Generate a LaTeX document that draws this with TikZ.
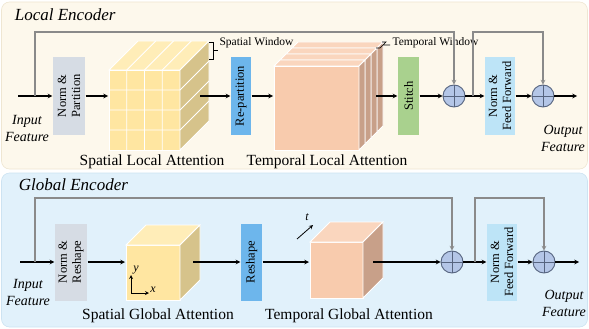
\documentclass[tikz,border=0pt]{standalone}
\usepackage{fontspec}
\setmainfont{Liberation Serif}
\usepackage{tikz}

\definecolor{localbg}{HTML}{FDF8EC}
\definecolor{localedge}{HTML}{EFE6D2}
\definecolor{globalbg}{HTML}{E1F1FB}
\definecolor{globaledge}{HTML}{CDE3F2}
\definecolor{normfill}{HTML}{D6DCE4}
\definecolor{partfill}{HTML}{6DB6EC}
\definecolor{stitchfill}{HTML}{A9D18E}
\definecolor{ffnfill}{HTML}{BDE4F7}
\definecolor{addfill}{HTML}{B4C6E7}
\definecolor{adddraw}{HTML}{56647F}
\definecolor{skipgray}{HTML}{8A8A8A}
\definecolor{yelfront}{HTML}{FFE6A1}
\definecolor{yeltop}{HTML}{FFEDB8}
\definecolor{yelside}{HTML}{D6C38B}
\definecolor{pchfront}{HTML}{F8CBAD}
\definecolor{pchtop}{HTML}{FAD6BE}
\definecolor{pchside}{HTML}{C8A089}

% front top-left x, y; width; height; depth; colour prefix
\newcommand{\cubeblock}[6]{%
  \filldraw[fill=#6front] (#1,#2) rectangle ++(#3,#4);
  \filldraw[fill=#6top] (#1,#2) -- ++(#3,0) -- ++(#5,-#5) -- ++(-#3,0) -- cycle;
  \filldraw[fill=#6side] (#1+#3,#2) -- ++(#5,-#5) -- ++(0,#4) -- ++(-#5,#5) -- cycle;
}

\begin{document}
\begin{tikzpicture}[x=1pt,y=-1pt,line width=1.1pt,>=stealth,
  opbox/.style={rotate=90,minimum width=77pt,inner sep=0pt,align=center,
    font=\fontsize{12.5}{14}\selectfont},
  addnode/.style={circle,draw=adddraw,fill=addfill,line width=0.9pt,
    minimum size=22pt,inner sep=0pt,
    path picture={\draw[adddraw,line width=0.9pt]
      (path picture bounding box.north) -- (path picture bounding box.south)
      (path picture bounding box.west) -- (path picture bounding box.east);}},
  skip/.style={draw=skipgray,->},
  title/.style={anchor=west,font=\fontsize{17}{20}\selectfont\itshape},
  cubelabel/.style={font=\fontsize{15.5}{18}\selectfont},
  io/.style={align=center,font=\fontsize{14}{17}\selectfont\itshape},
  winlabel/.style={anchor=west,inner sep=0pt,font=\fontsize{11.5}{13}\selectfont},
  axlab/.style={inner sep=0pt,font=\fontsize{12}{14}\selectfont\itshape}]
  \useasboundingbox (0,0) rectangle (589,329);

  % panels
  \filldraw[fill=localbg,draw=localedge,line width=0.6pt,rounded corners=8pt]
    (1.5,2) rectangle (587.5,169);
  \filldraw[fill=globalbg,draw=globaledge,line width=0.6pt,rounded corners=8pt]
    (1.5,173) rectangle (587.5,327);

  %% local encoder
  \node[title] (ltitle) at (11,15) {Local Encoder};

  \coordinate (inA) at (18,96);
  \coordinate (skA) at (35,96);
  \coordinate (topA) at (35,32);
  \node[opbox,minimum height=32pt,fill=normfill] (normA) at (69,96) {Norm \&\\Partition};
  \coordinate (slaIn) at (108,96);
  \coordinate (slaOut) at (200,96);
  \node[opbox,minimum height=20pt,fill=partfill] (repart) at (241,96) {Re-partition};
  \coordinate (tlaIn) at (273,96);
  \coordinate (tlaOut) at (376,96);
  \node[opbox,minimum height=21pt,fill=stitchfill] (stitch) at (408.5,96) {Stitch};
  \node[addnode] (addA1) at (454,96) {};
  \coordinate (skA2) at (473,96);
  \coordinate (topA2) at (473,32);
  \node[opbox,minimum height=30pt,fill=ffnfill] (ffnA) at (500,96) {Norm \&\\Feed Forward};
  \node[addnode] (addA2) at (543,96) {};
  \coordinate (outA) at (577,96);

  % spatial local attention cube
  \begin{scope}[color=white,line width=0.8pt]
    \cubeblock{109}{70}{71}{80}{29}{yel}
    \foreach \k in {1,2,3} {
      \draw (109+\k*17.75,150) -- ++(0,-80) -- ++(29,-29);
      \draw (109,70+\k*20) -- ++(71,0) -- ++(29,-29);
    }
  \end{scope}
  \draw[line width=0.7pt] (209,42) -- (213,42) -- (213,59) -- (209,59)
    (213,50.5) -- (218,50.5);
  \node[winlabel] (swLab) at (219,43) {Spatial Window};

  % temporal local attention slices
  \begin{scope}[color=white,line width=0.8pt]
    \foreach \i in {3,2,1,0} {
      \cubeblock{274+\i*6}{66-\i*6}{85}{84}{6}{pch}
    }
  \end{scope}
  \draw[line width=0.7pt] (382,42) -- (386,42) -- (380,48) -- (376,48)
    (383,45) -- (390,45);
  \node[winlabel] (twLab) at (392,43) {Temporal Window};

  \draw[->] (inA) -- (normA);
  \draw[->] (normA) -- (slaIn);
  \draw[->] (slaOut) -- (repart);
  \draw[->] (repart) -- (tlaIn);
  \draw[->] (tlaOut) -- (stitch);
  \draw[->] (stitch) -- (addA1);
  \draw[->] (addA1) -- (ffnA);
  \draw[->] (ffnA) -- (addA2);
  \draw[->] (addA2) -- (outA);
  \draw[skip] (skA) -- (topA) -| (addA1);
  \draw[skip] (skA2) -- (topA2) -| (addA2);

  \node[cubelabel] (slaLab) at (152,162) {Spatial Local Attention};
  \node[cubelabel] (tlaLab) at (327,162) {Temporal Local Attention};
  \node[io] (inALab) at (27,128) {Input\\Feature};
  \node[io] (outALab) at (563,138) {Output\\Feature};

  %% global encoder
  \node[title] (gtitle) at (15,185) {Global Encoder};

  \coordinate (inG) at (20,262);
  \coordinate (skG) at (35,262);
  \coordinate (topG) at (35,198);
  \node[opbox,minimum height=32pt,fill=normfill] (normG) at (71,262) {Norm \&\\Reshape};
  \coordinate (sgaIn) at (125,262);
  \coordinate (sgaOut) at (193,262);
  \node[opbox,minimum height=21pt,fill=partfill] (reshape) at (251.5,262) {Reshape};
  \coordinate (tgaIn) at (309,262);
  \coordinate (tgaOut) at (373,262);
  \node[addnode] (addG1) at (452,262) {};
  \coordinate (skG2) at (475,262);
  \coordinate (topG2) at (475,198);
  \node[opbox,minimum height=30pt,fill=ffnfill] (ffnG) at (502,262) {Norm \&\\Feed Forward};
  \node[addnode] (addG2) at (544,262) {};
  \coordinate (outG) at (579,262);

  % cubes
  \begin{scope}[color=white,line width=0.8pt]
    \cubeblock{126}{245}{54}{55}{20}{yel}
    \cubeblock{310}{242}{53}{56}{20}{pch}
  \end{scope}

  % axes
  \coordinate (axO) at (131,293);
  \coordinate (axY) at (131,275);
  \coordinate (axX) at (149,293);
  \draw[->,line width=0.8pt] (axO) -- (axY);
  \draw[->,line width=0.8pt] (axO) -- (axX);
  \node[axlab] (yLab) at (136,270) {y};
  \node[axlab] (xLab) at (153,290) {x};
  \coordinate (tA) at (297,239);
  \coordinate (tB) at (313,225);
  \draw[->,line width=0.8pt] (tA) -- (tB);
  \node[axlab] (tLab) at (307,217) {t};

  \draw[->] (inG) -- (normG);
  \draw[->] (normG) -- (sgaIn);
  \draw[->] (sgaOut) -- (reshape);
  \draw[->] (reshape) -- (tgaIn);
  \draw[->] (tgaOut) -- (addG1);
  \draw[->] (addG1) -- (ffnG);
  \draw[->] (ffnG) -- (addG2);
  \draw[->] (addG2) -- (outG);
  \draw[skip] (skG) -- (topG) -| (addG1);
  \draw[skip] (skG2) -- (topG2) -| (addG2);

  \node[cubelabel] (sgaLab) at (158,316) {Spatial Global Attention};
  \node[cubelabel] (tgaLab) at (349,316) {Temporal Global Attention};
  \node[io] (inGLab) at (28,292) {Input\\Feature};
  \node[io] (outGLab) at (564,303) {Output\\Feature};
\end{tikzpicture}
\end{document}
